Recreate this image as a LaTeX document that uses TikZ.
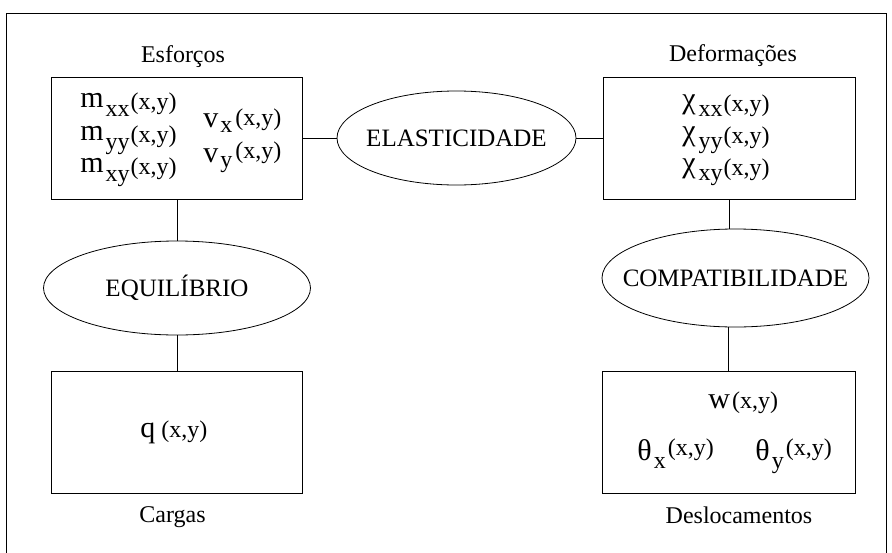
\documentclass[tikz,border=0pt]{standalone}
\usepackage{fontspec}
\setmainfont{Liberation Serif}
\usetikzlibrary{shapes.geometric}
\newcommand\bigf{\fontsize{30}{34}\selectfont}
\newcommand\smf{\fontsize{24}{28}\selectfont}
\newcommand\xyd[1]{\raisebox{#1}{\smf (x,y)}}
\newcommand\subd[2]{\raisebox{#1}{\smf #2}}
\begin{document}
\begin{tikzpicture}[x=1pt,y=-1pt, line width=0.8pt,
  box/.style={draw, rectangle, minimum width=251pt, minimum height=122pt, inner sep=0pt},
  oval/.style={draw, ellipse, inner sep=0pt},
  ovaltext/.style={inner sep=0pt, font=\fontsize{25}{28}\selectfont, text height=16.5pt, text depth=0pt},
  caption/.style={anchor=base, font=\fontsize{24}{28}\selectfont, inner sep=0pt},
  term/.style={anchor=base west, inner sep=0pt, font=\bigf}]
\useasboundingbox (0,0) rectangle (892,552);
\draw (6,560) -- (6,13) -- (886,13) -- (886,560);
% boxes
\node[box] (esf) at (177,138) {};
\node[box, minimum width=252pt] (def) at (729,138) {};
\node[box] (car) at (177,432) {};
\node[box, minimum width=253pt] (des) at (728.5,432) {};
% ellipses
\node[oval, minimum width=239pt, minimum height=94pt] (ela) at (456.5,138) {};
\node[ovaltext] (elat) at (ela.center) {ELASTICIDADE};
\node[oval, minimum width=267pt, minimum height=94pt] (equ) at (177,288) {};
\node[ovaltext] (equt) at (equ.center) {EQUILÍBRIO};
\node[oval, minimum width=267pt, minimum height=98pt] (com) at (735.5,278) {};
\node[ovaltext] (comt) at (com.center) {COMPATIBILIDADE};
% connectors
\draw (esf.east) -- (ela.west);
\draw (ela.east) -- (def.west);
\draw (esf.south) -- (equ.north);
\draw (equ.south) -- (car.north);
\draw (def.south) -- (def.south |- com.north);
\draw (des.north) -- (des.north |- com.south);
% captions
\node[caption] (lesf) at (183,62) {Esforços};
\node[caption] (ldef) at (733,61) {Deformações};
\node[caption] (lcar) at (172.5,522) {Cargas};
\node[caption] (ldes) at (739,523) {Deslocamentos};
% Esforcos terms
\node[term] (mxx) at (80,107) {m\hspace{2pt}\subd{-9pt}{xx}\hspace{1pt}\xyd{-2pt}};
\node[term] (myy) at (80,140) {m\hspace{2pt}\subd{-9pt}{yy}\hspace{1pt}\xyd{-2pt}};
\node[term] (mxy) at (80,172) {m\hspace{2pt}\subd{-9pt}{xy}\hspace{1pt}\xyd{-2pt}};
\node[term] (vx) at (203,127) {v\hspace{2pt}\subd{-5pt}{x}\hspace{3pt}\xyd{2pt}};
\node[term] (vy) at (203,162) {v\hspace{2pt}\subd{-5pt}{y}\hspace{3pt}\xyd{4pt}};
% Deformacoes terms
\node[term] (cxx) at (682,108) {χ\hspace{3pt}\subd{-8pt}{xx}\hspace{1pt}\xyd{-3pt}};
\node[term] (cyy) at (682,140) {χ\hspace{3pt}\subd{-8pt}{yy}\hspace{1pt}\xyd{-3pt}};
\node[term] (cxy) at (682,172) {χ\hspace{3pt}\subd{-8pt}{xy}\hspace{1pt}\xyd{-3pt}};
% Cargas
\node[term] (q) at (140,437) {q\hspace{6pt}\xyd{0pt}};
% Deslocamentos
\node[term] (w) at (708,408) {w\hspace{2pt}\xyd{0pt}};
\node[term] (tx) at (637,460) {θ\hspace{2pt}\subd{-8pt}{x}\hspace{2pt}\xyd{5pt}};
\node[term] (ty) at (755,460) {θ\hspace{2pt}\subd{-8pt}{y}\hspace{2pt}\xyd{5pt}};
\end{tikzpicture}
\end{document}
